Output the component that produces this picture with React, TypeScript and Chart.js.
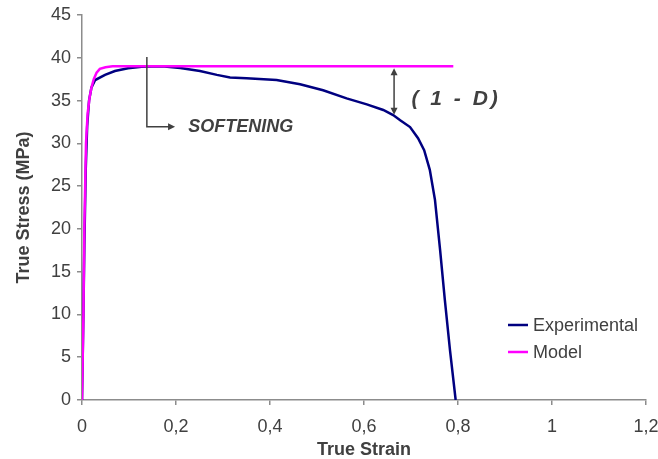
import React, { useEffect, useRef } from 'react';
import { Chart, registerables } from 'chart.js';

Chart.register(...registerables);

// Measured tensile test (true strain / true stress in MPa)
const strainExperimental = [
  0, 0.003, 0.005, 0.008, 0.011, 0.015, 0.02, 0.028, 0.049, 0.07, 0.098, 0.127, 0.17,
  0.209, 0.251, 0.287, 0.315, 0.35, 0.414, 0.464, 0.513, 0.563, 0.606, 0.641, 0.662,
  0.677, 0.698, 0.715, 0.728, 0.74, 0.751, 0.762, 0.772, 0.783, 0.795,
];
const stressExperimental = [
  0, 10, 18, 27, 32, 35, 36.5, 37.4, 38.0, 38.45, 38.77, 38.96, 39.0,
  38.8, 38.45, 38.0, 37.7, 37.6, 37.4, 36.9, 36.2, 35.25, 34.55, 33.9, 33.3,
  32.7, 31.9, 30.6, 29.2, 26.9, 23.4, 17.5, 11.7, 5.8, 0,
];

// Undamaged material model
const strainModel = [0, 0.003, 0.005, 0.0085, 0.012, 0.016, 0.02, 0.025, 0.031, 0.038, 0.05, 0.065, 0.79];
const stressModel = [0, 10, 20, 30, 33.5, 35.3, 36.5, 37.5, 38.25, 38.7, 38.9, 39, 39];

const strainTicks = [0, 0.2, 0.4, 0.6, 0.8, 1, 1.2];
const stressTicks = [0, 5, 10, 15, 20, 25, 30, 35, 40, 45];

const FONT = "'Liberation Sans', Arial, sans-serif";
const TEXT = '#404040';
const AXIS = '#8c8c8c';

const toPoints = (xs: number[], ys: number[]) => xs.map((x, i) => ({ x, y: ys[i] }));

const interpolate = (xs: number[], ys: number[], x: number) => {
  for (let i = 1; i < xs.length; i++) {
    if (x <= xs[i]) {
      const t = (x - xs[i - 1]) / (xs[i] - xs[i - 1]);
      return ys[i - 1] + t * (ys[i] - ys[i - 1]);
    }
  }
  return ys[ys.length - 1];
};

const arrowHead = (ctx: CanvasRenderingContext2D, x: number, y: number, dx: number, dy: number) => {
  const len = 7;
  const half = 3.5;
  const px = -dy;
  const py = dx;
  ctx.beginPath();
  ctx.moveTo(x, y);
  ctx.lineTo(x - dx * len + px * half, y - dy * len + py * half);
  ctx.lineTo(x - dx * len - px * half, y - dy * len - py * half);
  ctx.closePath();
  ctx.fill();
};

// Softening and damage callouts
const annotationPlugin = {
  id: 'annotations',
  afterDatasetsDraw(chart: any) {
    const { ctx, scales } = chart;
    const x = scales.x;
    const y = scales.y;
    ctx.save();
    ctx.strokeStyle = TEXT;
    ctx.fillStyle = TEXT;
    ctx.lineWidth = 1.5;

    // elbow arrow pointing to SOFTENING
    const sx = x.getPixelForValue(0.138);
    const sTop = y.getPixelForValue(40.1);
    const sBot = y.getPixelForValue(31.95);
    const sEnd = x.getPixelForValue(0.198);
    ctx.beginPath();
    ctx.moveTo(sx, sTop);
    ctx.lineTo(sx, sBot);
    ctx.lineTo(sEnd - 5, sBot);
    ctx.stroke();
    arrowHead(ctx, sEnd, sBot, 1, 0);

    ctx.font = `italic bold 18px ${FONT}`;
    ctx.textAlign = 'left';
    ctx.textBaseline = 'middle';
    ctx.fillText('SOFTENING', x.getPixelForValue(0.226), y.getPixelForValue(31.9));

    // double arrow between model and experiment
    const dStrain = 0.664;
    const dx = x.getPixelForValue(dStrain);
    const dTop = y.getPixelForValue(interpolate(strainModel, stressModel, dStrain)) + 2;
    const dBot = y.getPixelForValue(interpolate(strainExperimental, stressExperimental, dStrain)) - 1;
    ctx.beginPath();
    ctx.moveTo(dx, dTop + 5);
    ctx.lineTo(dx, dBot - 5);
    ctx.stroke();
    arrowHead(ctx, dx, dTop, 0, -1);
    arrowHead(ctx, dx, dBot, 0, 1);

    ctx.font = `italic bold 21px ${FONT}`;
    (ctx as any).letterSpacing = '3px';
    ctx.fillText('( 1 - D)', x.getPixelForValue(0.701), y.getPixelForValue(35.1));
    ctx.restore();
  },
};

// Legend inside the lower right of the plot
const legendPlugin = {
  id: 'insideLegend',
  afterDraw(chart: any) {
    const { ctx } = chart;
    const left = 508;
    const rows = [325, 352];
    ctx.save();
    ctx.font = `18px ${FONT}`;
    ctx.textAlign = 'left';
    ctx.textBaseline = 'middle';
    chart.data.datasets.forEach((ds: any, i: number) => {
      const yy = rows[i];
      ctx.strokeStyle = ds.borderColor;
      ctx.lineWidth = 2.5;
      ctx.beginPath();
      ctx.moveTo(left, yy);
      ctx.lineTo(left + 20, yy);
      ctx.stroke();
      ctx.fillStyle = TEXT;
      ctx.fillText(ds.label, left + 25, yy + 1);
    });
    ctx.restore();
  },
};

const formatStrain = (v: number) => String(Math.round(v * 10) / 10).replace('.', ',');

export default function App() {
  const canvasRef = useRef<HTMLCanvasElement | null>(null);

  useEffect(() => {
    if (!canvasRef.current) return;
    const chart = new Chart(canvasRef.current, {
      type: 'scatter',
      data: {
        datasets: [
          {
            label: 'Experimental',
            data: toPoints(strainExperimental, stressExperimental),
            showLine: true,
            borderColor: '#000080',
            backgroundColor: '#000080',
            borderWidth: 2.5,
            pointRadius: 0,
            tension: 0,
            order: 1,
          },
          {
            label: 'Model',
            data: toPoints(strainModel, stressModel),
            showLine: true,
            borderColor: '#ff00ff',
            backgroundColor: '#ff00ff',
            borderWidth: 2.5,
            pointRadius: 0,
            tension: 0,
            order: 0,
          },
        ],
      },
      options: {
        animation: false,
        responsive: true,
        maintainAspectRatio: false,
        layout: { padding: { top: 15, right: 12, bottom: 0, left: 0 } },
        plugins: {
          legend: { display: false },
          tooltip: { enabled: false },
        },
        scales: {
          x: {
            type: 'linear',
            min: 0,
            max: 1.2,
            afterBuildTicks: (scale: any) => {
              scale.ticks = strainTicks.map((value) => ({ value }));
            },
            afterFit: (scale: any) => {
              scale.height = 59;
              scale.paddingLeft = 0;
              scale.paddingRight = 0;
            },
            ticks: {
              callback: (v: any) => formatStrain(Number(v)),
              font: { family: FONT, size: 18 },
              color: TEXT,
              padding: 11,
              maxRotation: 0,
              autoSkip: false,
            },
            grid: { display: true, drawOnChartArea: false, drawTicks: true, tickLength: 5, color: AXIS, lineWidth: 1.5 },
            border: { display: true, color: AXIS, width: 1.5 },
            title: {
              display: true,
              text: 'True Strain',
              font: { family: FONT, size: 18, weight: 'bold', lineHeight: 1 },
              color: TEXT,
              padding: { top: 0, bottom: 0 },
            },
          },
          y: {
            type: 'linear',
            min: 0,
            max: 45,
            afterBuildTicks: (scale: any) => {
              scale.ticks = stressTicks.map((value) => ({ value }));
            },
            afterFit: (scale: any) => {
              scale.width = 82;
              scale.paddingTop = 0;
              scale.paddingBottom = 0;
            },
            ticks: {
              font: { family: FONT, size: 18 },
              color: TEXT,
              padding: 6,
              autoSkip: false,
            },
            grid: { display: true, drawOnChartArea: false, drawTicks: true, tickLength: 5, color: AXIS, lineWidth: 1.5 },
            border: { display: true, color: AXIS, width: 1.5 },
            title: {
              display: true,
              text: 'True Stress (MPa)',
              font: { family: FONT, size: 18, weight: 'bold', lineHeight: 1 },
              color: TEXT,
              padding: { top: 15, bottom: 0 },
            },
          },
        },
      },
      plugins: [annotationPlugin, legendPlugin],
    } as any);
    return () => chart.destroy();
  }, []);

  return (
    <div style={{ position: 'absolute', left: 0, top: 0, width: 658, height: 459, background: '#fff' }}>
      <canvas ref={canvasRef} />
    </div>
  );
}
